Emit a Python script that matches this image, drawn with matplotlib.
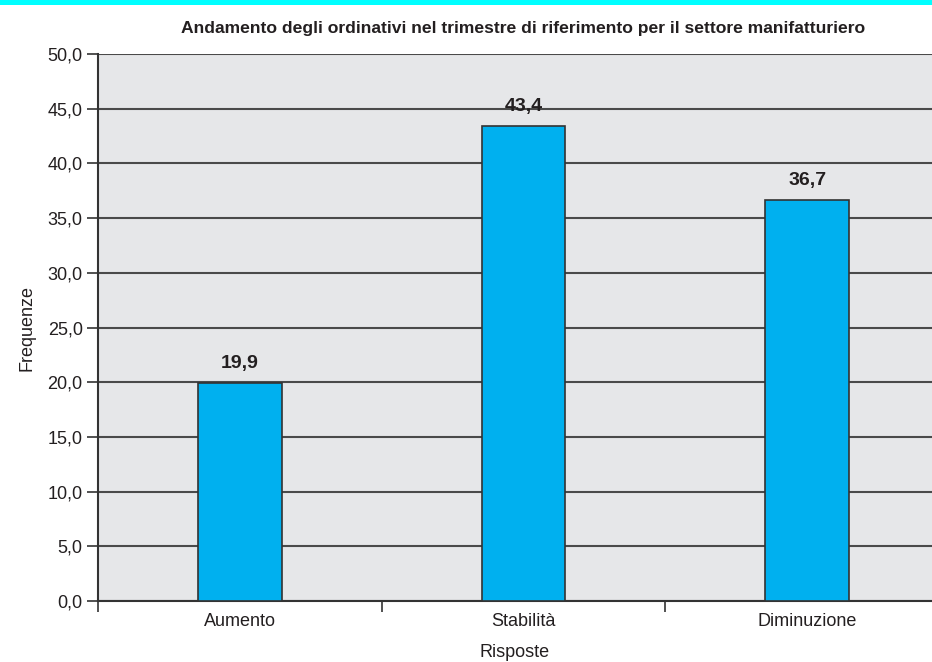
import matplotlib.pyplot as plt
from matplotlib.patches import Rectangle
from matplotlib.ticker import MultipleLocator, FuncFormatter

categorie = ['Aumento', 'Stabilità', 'Diminuzione']
frequenze = [19.9, 43.4, 36.7]

plt.rcParams['font.family'] = ['Liberation Sans', 'DejaVu Sans']

fig = plt.figure(figsize=(9.32, 6.62), dpi=100)
ax = fig.add_axes([98 / 932, 61 / 662, 1 - 98 / 932, 547 / 662])

# banda ciano in alto
fig.patches.append(Rectangle((0, 1 - 5 / 662), 1, 5 / 662, transform=fig.transFigure,
                             facecolor='#00ffff', edgecolor='none'))

ax.set_facecolor('#e6e7e9')
x = range(len(categorie))
ax.bar(x, frequenze, width=0.296, color='#00b0ef', edgecolor='#333333', linewidth=1.2, zorder=3)

for xi, v in zip(x, frequenze):
    ax.text(xi, v + 1.0, f'{v:.1f}'.replace('.', ','), ha='center', va='bottom',
            fontsize=14, fontweight='bold', color='#231f20')

ax.set_ylim(0, 50)
ax.set_xlim(-0.495, 2.44)
ax.yaxis.set_major_locator(MultipleLocator(5))
ax.yaxis.set_major_formatter(FuncFormatter(lambda v, p: f'{v:.1f}'.replace('.', ',')))
ax.grid(axis='y', color='#4a4a4a', linewidth=1.5, zorder=1)
ax.set_axisbelow(True)

ax.set_xticks([0, 1, 2])
ax.set_xticklabels(categorie)
ax.set_xticks([-0.5, 0.5, 1.5], minor=True)
ax.tick_params(axis='x', which='major', length=0, pad=9, labelsize=13, labelcolor='#231f20')
ax.tick_params(axis='x', which='minor', length=8, width=1.2, color='#333333')
ax.tick_params(axis='y', length=8, width=1.2, color='#333333', labelsize=13, labelcolor='#231f20', pad=3)

for s in ['top', 'right']:
    ax.spines[s].set_visible(False)
for s in ['left', 'bottom']:
    ax.spines[s].set_color('#333333')
    ax.spines[s].set_linewidth(1.5)

ax.set_xlabel('Risposte', fontsize=13, color='#231f20', labelpad=10)
ax.set_ylabel('Frequenze', fontsize=13, color='#231f20', labelpad=9)
fig.text(523 / 932, 1 - 28 / 662, 'Andamento degli ordinativi nel trimestre di riferimento per il settore manifatturiero',
         ha='center', va='center', fontsize=12.6, fontweight='bold', color='#231f20')

fig.savefig('out.png', dpi=100)
